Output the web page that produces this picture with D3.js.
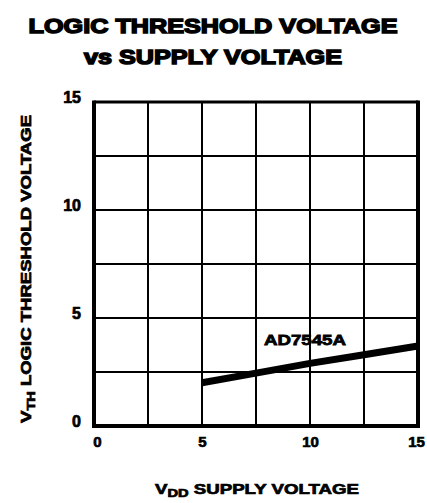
<!DOCTYPE html>
<html><head><meta charset="utf-8">
<script src="https://cdn.jsdelivr.net/npm/d3@7"></script>
<style>
body{margin:0;background:#fff;}
svg text{font-family:"Liberation Sans",Arial,sans-serif;font-weight:bold;fill:#000;}
</style></head>
<body><svg id="c" width="427" height="503"></svg>
<script>
const supplyV = [5, 7.5, 10, 12.5, 15];
const thresholdV = [2.0, 2.45, 2.9, 3.3, 3.7];
const seriesName = "AD7545A";
const xTicks = [0, 5, 10, 15];
const yTicks = [0, 5, 10, 15];
const gridStep = 2.5;

const svg = d3.select("#c");
const L = 94, R = 418, T = 102, B = 426;
const x = d3.scaleLinear().domain([0, 15]).range([L, R]);
const y = d3.scaleLinear().domain([0, 15]).range([B, T]);

// title
svg.append("text").attr("x", 213).attr("y", 33).attr("text-anchor", "middle")
  .attr("font-size", 21).attr("stroke", "#000").attr("stroke-width", 1.5)
  .attr("textLength", 369).attr("lengthAdjust", "spacingAndGlyphs")
  .text("LOGIC THRESHOLD VOLTAGE");
svg.append("text").attr("x", 213).attr("y", 64).attr("text-anchor", "middle")
  .attr("font-size", 21).attr("stroke", "#000").attr("stroke-width", 1.5)
  .attr("textLength", 258).attr("lengthAdjust", "spacingAndGlyphs")
  .text("vs  SUPPLY VOLTAGE");

// grid
const gv = d3.range(gridStep, 15, gridStep);
svg.append("g").selectAll("line.v").data(gv).join("line")
  .attr("x1", d => x(d)).attr("x2", d => x(d)).attr("y1", T).attr("y2", B)
  .attr("stroke", "#000").attr("stroke-width", 2);
svg.append("g").selectAll("line.h").data(gv).join("line")
  .attr("y1", d => y(d)).attr("y2", d => y(d)).attr("x1", L).attr("x2", R)
  .attr("stroke", "#000").attr("stroke-width", 2);

// frame
svg.append("line").attr("x1", L).attr("x2", R).attr("y1", T).attr("y2", T).attr("stroke", "#000").attr("stroke-width", 3);
svg.append("line").attr("x1", L).attr("x2", R).attr("y1", B).attr("y2", B).attr("stroke", "#000").attr("stroke-width", 4);
svg.append("line").attr("x1", L).attr("x2", L).attr("y1", T - 1.5).attr("y2", B + 2).attr("stroke", "#000").attr("stroke-width", 4);
svg.append("line").attr("x1", R).attr("x2", R).attr("y1", T - 1.5).attr("y2", B + 2).attr("stroke", "#000").attr("stroke-width", 4);

// axes ticks labels
const xAxis = d3.axisBottom(x).tickValues(xTicks).tickSize(0).tickPadding(10);
const gx = svg.append("g").attr("transform", `translate(0,${B})`).call(xAxis);
gx.select(".domain").remove();
gx.selectAll("text").attr("font-size", 15).attr("font-family", "Liberation Sans").attr("font-weight", "bold")
  .attr("stroke", "#000").attr("stroke-width", 0.7).attr("dx", (d) => d === 0 ? 3 : (d === 15 ? -2 : 0));

const yAxis = d3.axisLeft(y).tickValues(yTicks).tickSize(0).tickPadding(13);
const gy = svg.append("g").attr("transform", `translate(${L},0)`).call(yAxis);
gy.select(".domain").remove();
gy.selectAll("text").attr("font-size", 16).attr("font-family", "Liberation Sans").attr("font-weight", "bold")
  .attr("stroke", "#000").attr("stroke-width", 0.7).attr("dy", "0.05em");

// curve
const line = d3.line().x((d, i) => x(supplyV[i])).y(d => y(d));
svg.append("path").datum(thresholdV).attr("d", line).attr("fill", "none")
  .attr("stroke", "#000").attr("stroke-width", 7);

svg.append("text").attr("x", x(10) - 5).attr("y", y(thresholdV[2]) - 18).attr("text-anchor", "middle")
  .attr("font-size", 15).attr("stroke", "#000").attr("stroke-width", 0.8)
  .attr("textLength", 82).attr("lengthAdjust", "spacingAndGlyphs")
  .text(seriesName);

// y title
const yt = svg.append("text").attr("transform", "translate(31,269) rotate(-90)")
  .attr("text-anchor", "middle").attr("font-size", 14).attr("stroke", "#000").attr("stroke-width", 0.7)
  .attr("textLength", 308).attr("lengthAdjust", "spacingAndGlyphs");
yt.append("tspan").text("V");
yt.append("tspan").attr("font-size", 11).attr("dy", 4).text("TH");
yt.append("tspan").attr("dy", -4).text(" LOGIC THRESHOLD VOLTAGE");

// x title
const xt = svg.append("text").attr("x", 257).attr("y", 494).attr("text-anchor", "middle")
  .attr("font-size", 14).attr("stroke", "#000").attr("stroke-width", 0.7)
  .attr("textLength", 204).attr("lengthAdjust", "spacingAndGlyphs");
xt.append("tspan").text("V");
xt.append("tspan").attr("font-size", 11).attr("dy", 3).text("DD");
xt.append("tspan").attr("dy", -3).text(" SUPPLY VOLTAGE");
</script></body></html>
